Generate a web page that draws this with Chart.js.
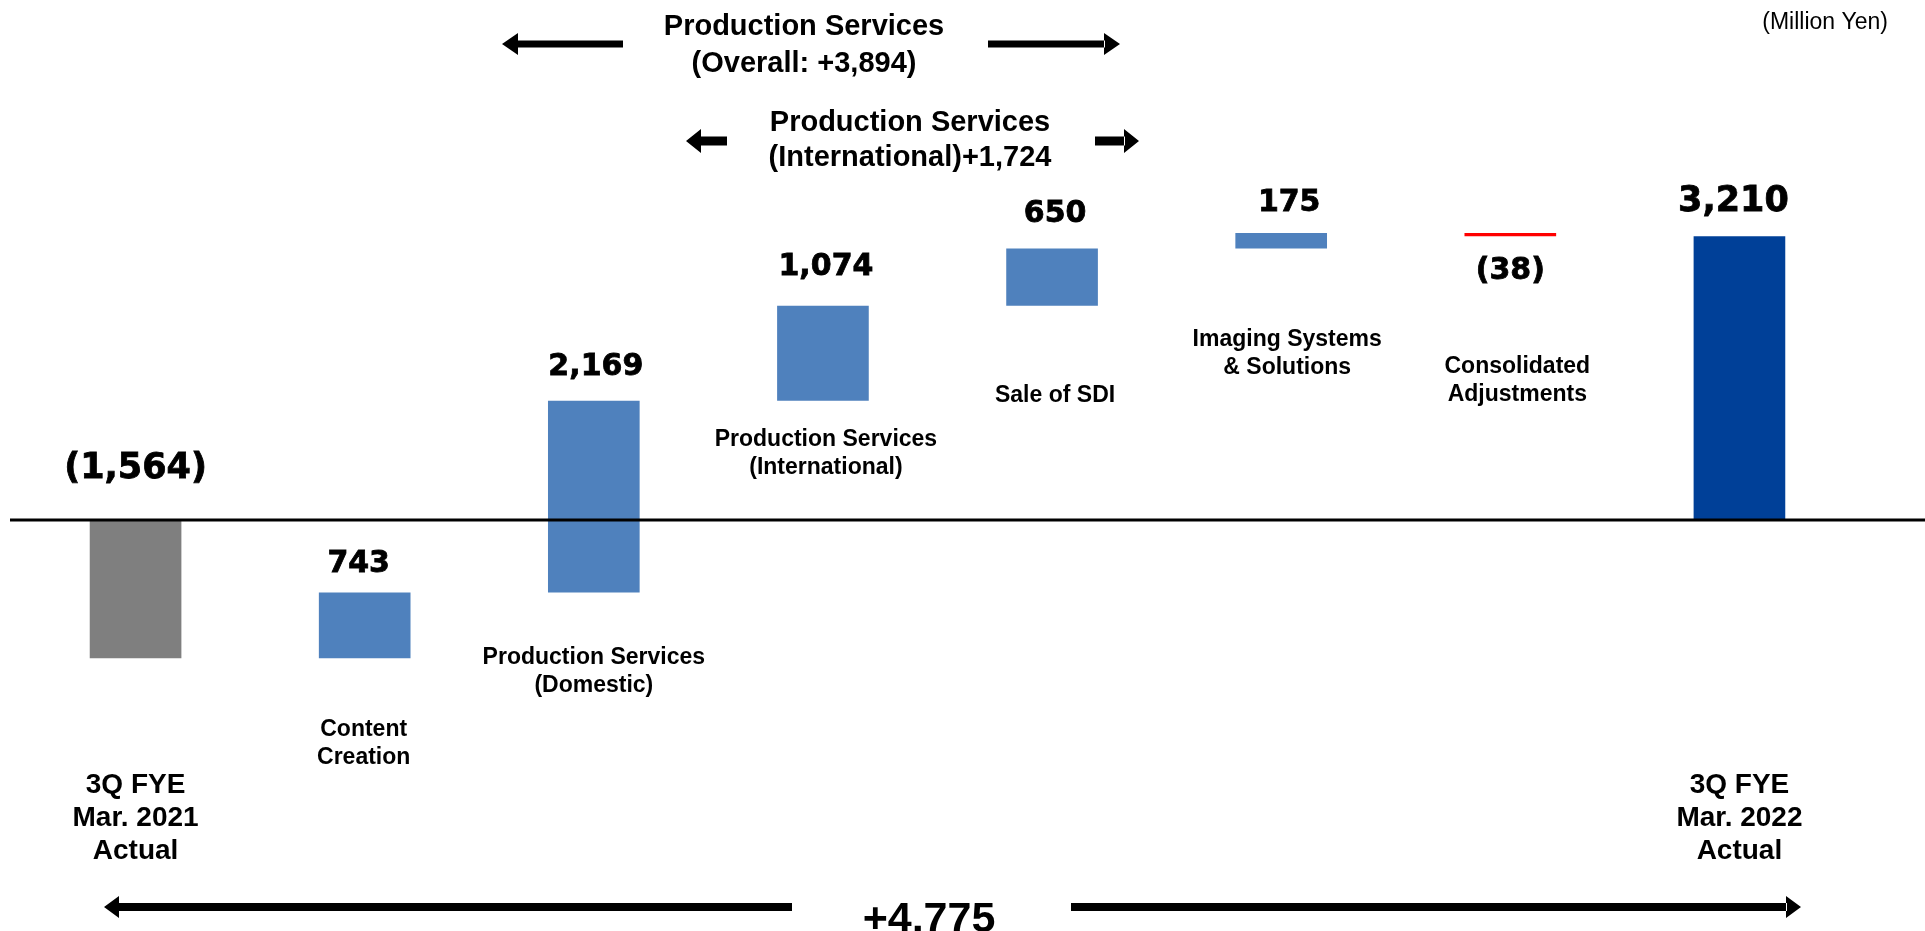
<!DOCTYPE html>
<html>
<head>
<meta charset="utf-8">
<script src="https://cdn.jsdelivr.net/npm/chart.js@4"></script>
<style>
  html, body { margin: 0; padding: 0; background: #fff; }
  #wrap { width: 1925px; height: 931px; position: relative; }
</style>
</head>
<body>
<div id="wrap"><canvas id="bridge"></canvas></div>
<script>
// categories (bottom / side labels of the bridge)
const categories = [
  ['3Q FYE', 'Mar. 2021', 'Actual'],
  ['Content', 'Creation'],
  ['Production Services', '(Domestic)'],
  ['Production Services', '(International)'],
  ['Sale of SDI'],
  ['Imaging Systems', '& Solutions'],
  ['Consolidated', 'Adjustments'],
  ['3Q FYE', 'Mar. 2022', 'Actual']
];
// operating income change, million yen
const changes = [-1564, 743, 2169, 1074, 650, 175, -38, 3210];
const isTotal = [true, false, false, false, false, false, false, true];

// annotation texts
const unitText = '(Million Yen)';
const overallText = ['Production Services', '(Overall: +3,894)'];
const intlText = ['Production Services', '(International)+1,724'];
const totalChangeText = '+4,775';

// layout for labels (pixels)
const valueGap = [42, 21, 26, 31, 26, 22, 43, 25];
const valueDx = [0, -6, 2, 3, 3, 8, 0, -6];
const catBaseline = [793, 736, 664, 446, 402, 346, 373, 793];
const catDx = [0, -1, 0, 3, 3, 6, 7, 0];

const colors = { start: '#7f7f7f', end: '#004098', up: '#4f81bd', down: '#ff0000' };

// floating ranges for the waterfall
let running = 0;
const ranges = changes.map((v, i) => {
  if (isTotal[i]) { running = v; return [0, v]; }
  const s = running;
  running += v;
  return [s, running];
});
const barColors = changes.map((v, i) => {
  if (i === 0) return colors.start;
  if (i === changes.length - 1) return colors.end;
  return v < 0 ? colors.down : colors.up;
});

function fmt(v) {
  const s = Math.abs(v).toLocaleString('en-US');
  return v < 0 ? '(' + s + ')' : s;
}

function arrow(ctx, x1, x2, y, shaft, headLen, headH, dir) {
  // dir: -1 head on the left, 1 head on the right
  ctx.beginPath();
  if (dir < 0) {
    ctx.rect(x1 + headLen - 1, y - shaft / 2, x2 - x1 - headLen + 1, shaft);
    ctx.moveTo(x1, y);
    ctx.lineTo(x1 + headLen, y - headH / 2);
    ctx.lineTo(x1 + headLen, y + headH / 2);
  } else {
    ctx.rect(x1, y - shaft / 2, x2 - x1 - headLen + 1, shaft);
    ctx.moveTo(x2, y);
    ctx.lineTo(x2 - headLen, y - headH / 2);
    ctx.lineTo(x2 - headLen, y + headH / 2);
  }
  ctx.closePath();
  ctx.fill();
}

const annotate = {
  id: 'annotate',
  afterDatasetsDraw(chart) {
    const ctx = chart.ctx;
    const y = chart.scales.y;
    const meta = chart.getDatasetMeta(0);
    ctx.save();

    // zero line
    const y0 = Math.round(y.getPixelForValue(0));
    ctx.fillStyle = '#000';
    ctx.strokeStyle = '#000';
    ctx.fillRect(10, y0 - 1.5, 1915, 3);

    // value labels
    ctx.textAlign = 'center';
    ctx.textBaseline = 'alphabetic';
    ctx.lineWidth = 0.8;
    meta.data.forEach((bar, i) => {
      const top = Math.min(bar.y, bar.base);
      const bottom = Math.max(bar.y, bar.base);
      ctx.font = 'bold ' + (isTotal[i] ? 35 : 30) + 'px "DejaVu Sans", Verdana, sans-serif';
      const below = !isTotal[i] && changes[i] < 0;
      const ty = below ? bottom + valueGap[i] : top - valueGap[i];
      ctx.fillText(fmt(changes[i]), bar.x + valueDx[i], ty);
      ctx.strokeText(fmt(changes[i]), bar.x + valueDx[i], ty);
    });

    // category labels
    meta.data.forEach((bar, i) => {
      const size = isTotal[i] ? 28 : 23;
      const lh = isTotal[i] ? 33 : 27.5;
      ctx.font = 'bold ' + size + 'px "Liberation Sans", Arial, sans-serif';
      categories[i].forEach((line, k) => {
        ctx.fillText(line, bar.x + catDx[i], catBaseline[i] + k * lh);
      });
    });

    // top bracket texts
    ctx.font = 'bold 29px "Liberation Sans", Arial, sans-serif';
    ctx.fillText(overallText[0], 804, 35);
    ctx.fillText(overallText[1], 804, 72);
    ctx.fillText(intlText[0], 910, 131);
    ctx.fillText(intlText[1], 910, 166);
    arrow(ctx, 502, 623, 44, 7, 16, 22, -1);
    arrow(ctx, 988, 1120, 44, 7, 16, 22, 1);
    arrow(ctx, 686, 727, 141, 9, 15, 24, -1);
    arrow(ctx, 1095, 1139, 141, 9, 15, 24, 1);

    // total change
    ctx.font = 'bold 43px "Liberation Sans", Arial, sans-serif';
    ctx.fillText(totalChangeText, 929, 932);
    arrow(ctx, 104, 792, 907, 8, 15, 22, -1);
    arrow(ctx, 1071, 1801, 907, 8, 15, 22, 1);

    // unit
    ctx.font = '23px "Liberation Sans", Arial, sans-serif';
    ctx.textAlign = 'right';
    ctx.fillText(unitText, 1888, 29);
    ctx.restore();
  }
};

new Chart(document.getElementById('bridge'), {
  type: 'bar',
  data: {
    labels: categories.map(c => c.join(' ')),
    datasets: [{
      data: ranges,
      backgroundColor: barColors,
      borderWidth: 0,
      borderSkipped: false,
      barPercentage: 0.4,
      categoryPercentage: 1.0
    }]
  },
  options: {
    responsive: true,
    maintainAspectRatio: false,
    animation: false,
    layout: { padding: { left: 21, right: 71, top: 0, bottom: 0 } },
    plugins: { legend: { display: false }, tooltip: { enabled: false } },
    scales: {
      x: { display: false },
      y: { display: false, min: -4650, max: 5882 }
    }
  },
  plugins: [annotate]
});
</script>
</body>
</html>
